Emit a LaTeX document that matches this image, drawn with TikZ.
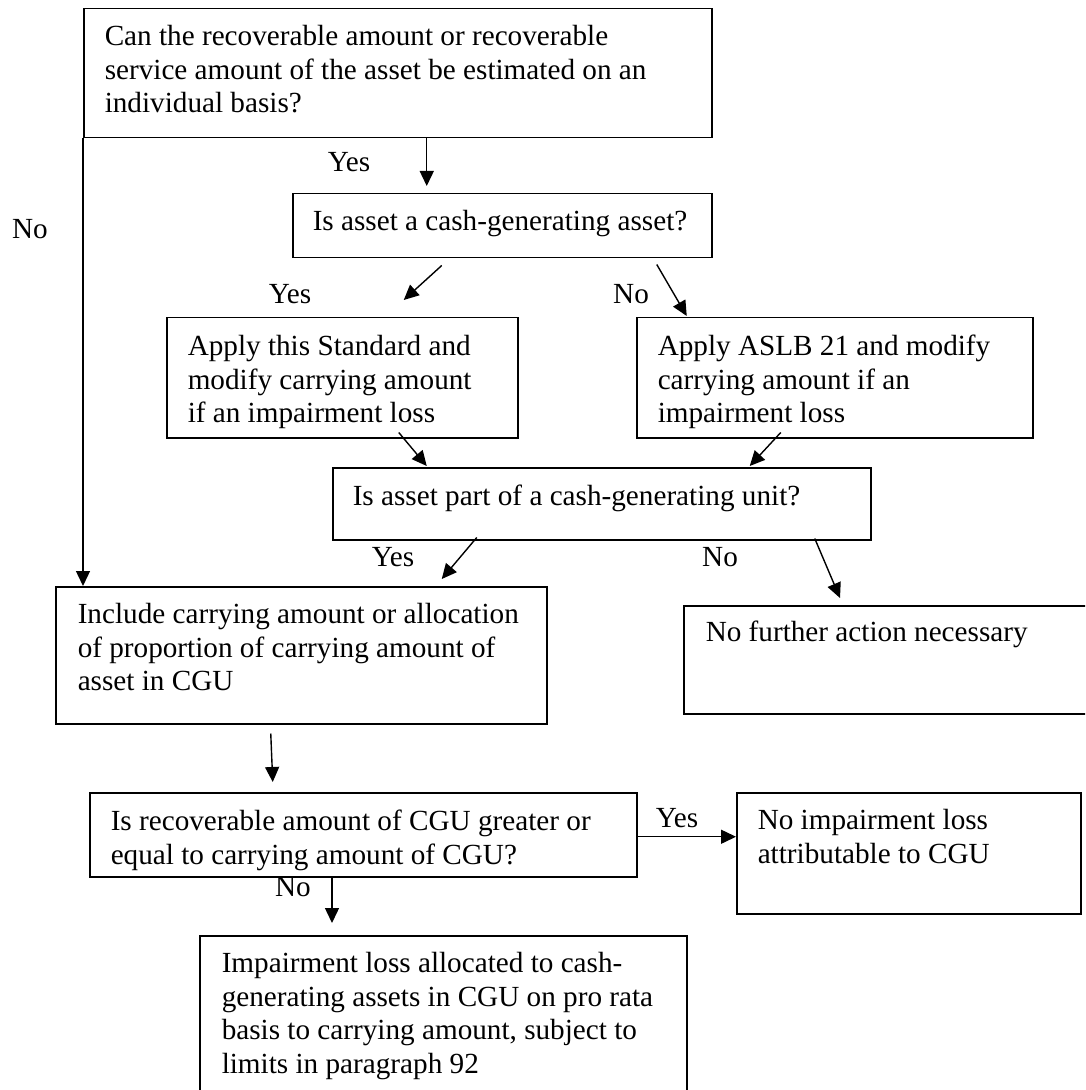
\documentclass[tikz,border=0pt]{standalone}
\usepackage{fontspec}
\setmainfont{Liberation Serif}
\usetikzlibrary{arrows.meta,calc}
\newcommand\bxt[5]{\parbox[t][\dimexpr#2pt/2\relax][t]{\dimexpr#1pt/2\relax}{\vspace*{\dimexpr#4pt/2-\ht\strutbox\relax}\leftskip=\dimexpr#3pt/2\relax\noindent\strut#5\par}}
\tikzset{
  box/.style={draw, line width=0.75pt, inner sep=0pt, anchor=north west, font=\fontsize{14.6}{16.75}\selectfont},
  lbl/.style={inner sep=0pt, anchor=base, font=\fontsize{14.6}{16.75}\selectfont},
  arr/.style={line width=0.7pt, -{Triangle[length=7.5pt,width=7pt]}}
}
\begin{document}
\begin{tikzpicture}[x=0.5pt,y=-0.5pt]
\useasboundingbox (0,0) rectangle (1085,1090);
\clip (0,0) rectangle (1085,1090);
% boxes
\node[box] (q1) at (83,8) {\bxt{628}{129}{21}{37}{Can the recoverable amount or recoverable\\service amount of the asset be estimated on an\\individual basis?}};
\node[box] (q2) at (292,193) {\bxt{419}{64}{20}{37}{Is asset a cash-generating asset?}};
\node[box] (a1) at (166,317) {\bxt{351}{120}{21}{38}{Apply this Standard and\\modify carrying amount\\if an impairment loss}};
\node[box] (a2) at (636,317) {\bxt{396}{120}{21}{38}{Apply ASLB 21 and modify\\carrying amount if an\\impairment loss}};
\node[box] (q3) at (332,467) {\bxt{538}{72}{20}{38}{Is asset part of a cash-generating unit?}};
\node[box] (inc) at (55,586) {\bxt{491}{137}{22}{37}{Include carrying amount or allocation\\of proportion of carrying amount of\\asset in CGU}};
\node[box] (nf) at (683,605) {\bxt{430}{108}{22}{36}{No further action necessary}};
\node[box] (q4) at (89,792) {\bxt{547}{84}{21}{38}{Is recoverable amount of CGU greater or\\equal to carrying amount of CGU?}};
\node[box] (ni) at (736,792) {\bxt{344}{121}{21}{37}{No impairment loss\\attributable to CGU}};
\node[box] (il) at (199,935) {\bxt{487}{180}{22}{37}{Impairment loss allocated to cash-\\generating assets in CGU on pro rata\\basis to carrying amount, subject to\\limits in paragraph 92}};
% labels
\node[lbl] (ly1) at (349,172) {Yes};
\node[lbl] (ln1) at (30,239) {No};
\node[lbl] (ly2) at (290,304) {Yes};
\node[lbl] (ln2) at (631,304) {No};
\node[lbl] (ly3) at (393,566) {Yes};
\node[lbl] (ln3) at (720,566) {No};
\node[lbl] (ly4) at (677,827) {Yes};
\node[lbl] (ln4) at (293,896) {No};
% connectors
\coordinate (yq1) at ($(q1.south)+(29,0)$);
\draw[arr] (yq1) -- ($(yq1 |- q2.north)+(0,-7)$);
\draw[arr] (q1.south west) -- (q1.south west |- inc.north);
\draw[arr] ($(q2.south)+(-60.5,7)$) -- ($(a1.north)+(61.5,-17)$);
\draw[arr] ($(q2.south)+(154.5,6)$) -- ($(a2.north)+(-148,-1)$);
\draw[arr] ($(a1.south)+(56.5,-6)$) -- ($(q3.north)+(-175,-1)$);
\draw[arr] ($(a2.south)+(-54,-6)$) -- ($(q3.north)+(148,-1)$);
\draw[arr] ($(q3.south)+(-125,-3)$) -- ($(inc.north)+(140.5,-7)$);
\draw[arr] ($(q3.south)+(213,-2)$) -- ($(nf.north west)+(157,-7)$);
\draw[arr] ($(inc.south)+(-30.5,9)$) -- ($(q4.north)+(-90.5,-10)$);
\coordinate (yq4) at ($(q4.east)+(0,2)$);
\draw[arr] (yq4) -- (yq4 -| ni.west);
\draw[arr] ($(q4.south west)+(243,0)$) -- ($(il.north west)+(133,-12)$);
\end{tikzpicture}
\end{document}
